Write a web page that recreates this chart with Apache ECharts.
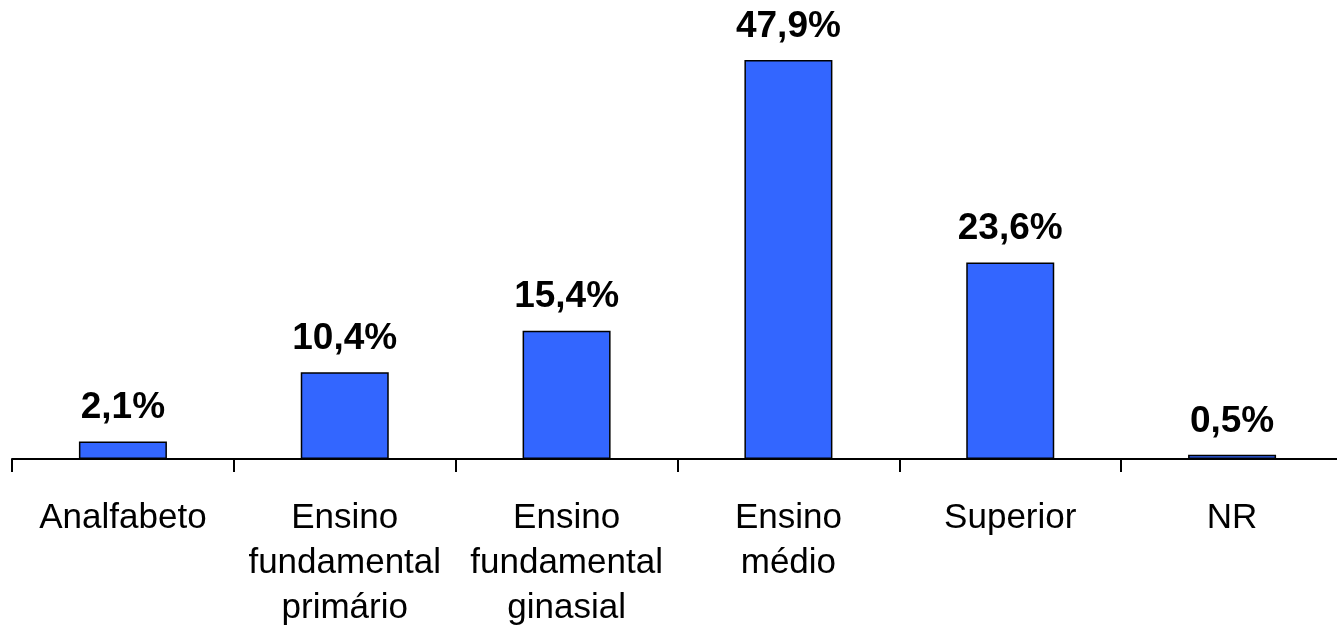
<!DOCTYPE html>
<html>
<head>
<meta charset="utf-8">
<script src="https://cdn.jsdelivr.net/npm/echarts@6/dist/echarts.min.js"></script>
<style>html,body{margin:0;padding:0;background:#fff}#c{width:1337px;height:626px}</style>
</head>
<body>
<div id="c"></div>
<script>
const categories = ['Analfabeto', 'Ensino\nfundamental\nprimário', 'Ensino\nfundamental\nginasial', 'Ensino\nmédio', 'Superior', 'NR'];
const values = [2.1, 10.4, 15.4, 47.9, 23.6, 0.5];

const chart = echarts.init(document.getElementById('c'));
chart.setOption({
  animation: false,
  backgroundColor: '#ffffff',
  grid: { left: 12, width: 1331, top: 42.5, bottom: 167, containLabel: false, outerBoundsMode: 'none' },
  xAxis: {
    type: 'category',
    data: categories,
    axisLine: { lineStyle: { color: '#000', width: 2 } },
    axisTick: { show: true, length: 13, lineStyle: { color: '#000', width: 2 } },
    axisLabel: {
      color: '#000', fontFamily: 'Liberation Sans, Arial, sans-serif', fontSize: 35,
      lineHeight: 45, margin: 37, interval: 0
    }
  },
  yAxis: { type: 'value', min: 0, max: 50, show: false },
  series: [{
    type: 'bar',
    data: values,
    barWidth: 88,
    itemStyle: { color: '#3366FF', borderColor: '#000', borderWidth: 1.5 },
    label: {
      show: true, position: 'top', distance: 15,
      formatter: p => p.value.toFixed(1).replace('.', ',') + '%',
      color: '#000', fontWeight: 'bold', fontSize: 37,
      fontFamily: 'Liberation Sans, Arial, sans-serif'
    }
  }]
});
</script>
</body>
</html>
